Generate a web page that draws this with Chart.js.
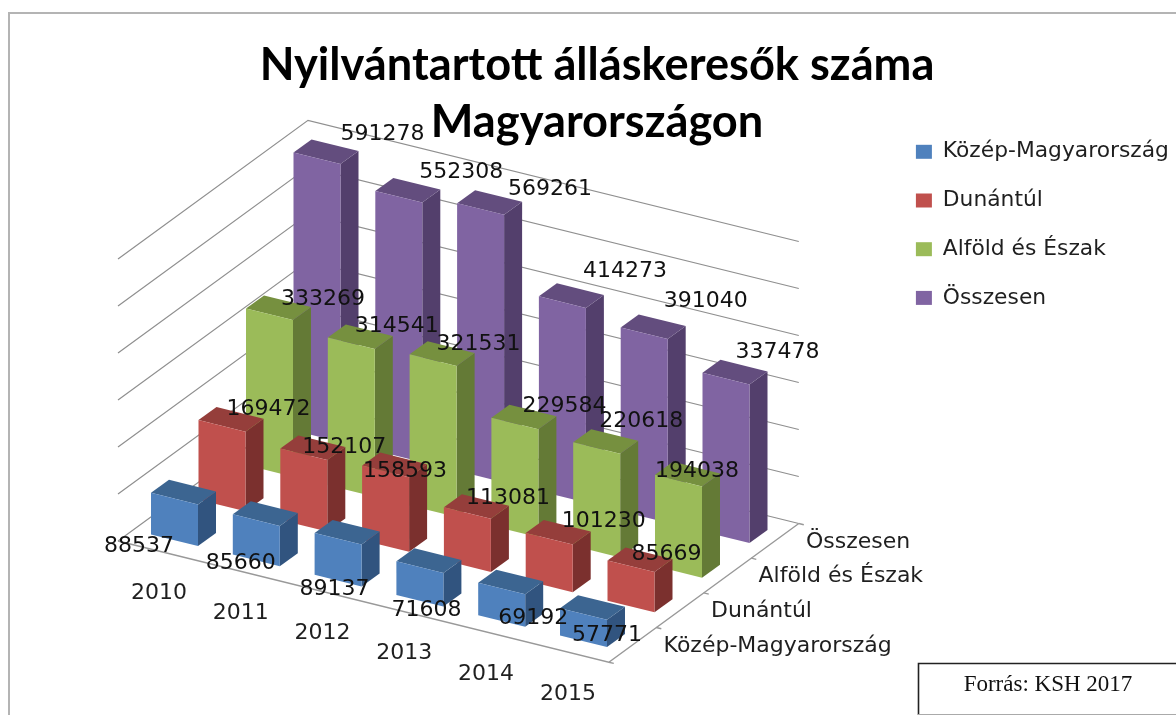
<!DOCTYPE html>
<html><head><meta charset="utf-8">
<style>html,body{margin:0;padding:0;background:#fff}canvas{display:block;filter:blur(.45px)}</style>
<script src="https://cdn.jsdelivr.net/npm/chart.js@4/dist/chart.umd.min.js"></script>
</head><body><div style="width:1176px;height:715px"><canvas id="c" width="1176" height="715"></canvas></div>
<script>
const titleLines = ['Nyilvántartott álláskeresők száma', 'Magyarországon'];
const categories = ['2010', '2011', '2012', '2013', '2014', '2015'];
const seriesNames = ['Közép-Magyarország', 'Dunántúl', 'Alföld és Észak', 'Összesen'];
const kozepMagyarorszag = [88537, 85660, 89137, 71608, 69192, 57771];
const dunantul = [169472, 152107, 158593, 113081, 101230, 85669];
const alfoldEsEszak = [333269, 314541, 321531, 229584, 220618, 194038];
const osszesen = [591278, 552308, 569261, 414273, 391040, 337478];
const gridValues = [0, 100000, 200000, 300000, 400000, 500000, 600000];
const sourceText = 'Forrás: KSH 2017';

const frontColors = ['#4F81BD', '#C0504D', '#9BBB59', '#8064A2'];
const topColors = ['#3C6591', '#953E3B', '#76903F', '#634D7E'];
const sideColors = ['#31547F', '#7B302E', '#647A36', '#533F6C'];

/* oblique projection of the 3D plot onto the two linear scales:
   a step along categories / series moves x (in category units) and shifts the floor (in value units).
   FLOOR_SHIFT keeps every floating bar's start and end on the same side of zero. */
const PX_PER_CAT = 81.8, PX_PER_VAL = 0.00047, FLOOR_SHIFT = 1000000;
const SERIES_X = 47.5 / PX_PER_CAT;
const CAT_DROP = 20.2 / PX_PER_VAL, SERIES_RISE = 34.67 / PX_PER_VAL;
const BAR_INSET_X = 56.5 / PX_PER_CAT, BAR_INSET_Y = 0.8 / PX_PER_VAL;
const BAR_W = 47, DEPTH_X = 18, DEPTH_Y = -13, BAR_SKEW = 5.8;
const PAD_LEFT = 18, ORIGIN_PX_X = 118, ORIGIN_PX_Y = 541, W = 1176, H = 715;
const TITLE_PAD_TOP = 37, TITLE_LH = 57, AREA_TOP = TITLE_PAD_TOP + 2 * TITLE_LH;

const floorX = (i, s) => i + s * SERIES_X;
const floorV = (i, s) => FLOOR_SHIFT + s * SERIES_RISE - i * CAT_DROP;

const allSeries = [kozepMagyarorszag, dunantul, alfoldEsEszak, osszesen];
const datasets = allSeries.map((vals, s) => ({
  label: seriesNames[s],
  data: vals.map((v, i) => {
    const b = floorV(i, s) + BAR_INSET_Y;
    return { x: floorX(i, s) + BAR_INSET_X, y: [b, b + v] };
  }),
  backgroundColor: frontColors[s],
  borderWidth: 0,
  barThickness: BAR_W,
  grouped: false,
  clip: false
}));

function poly(ctx, pts, fill) {
  ctx.beginPath();
  pts.forEach((p, k) => k ? ctx.lineTo(p[0], p[1]) : ctx.moveTo(p[0], p[1]));
  ctx.closePath();
  ctx.fillStyle = fill;
  ctx.fill();
}

/* data-label nudges from the front-right top corner of each bar */
const labelNudgeX = [[-59,-39,-27,-17,8,0],[23,17,-4,17,31,12],[30,22,22,26,21,-5],[42,39,46,39,38,28]];
const labelNudgeY = [[42,37,44.5,37,24,15],[-22,-13,-6,-21,-23,-18],[-21,-23,-22,-23,-32,-15],[-30,-30.6,-26,-37,-38,-32]];

const plot3d = {
  id: 'plot3d',
  afterLayout(chart) {
    const lg = chart.legend;
    lg.left = 889; lg.right = W; lg.top = 114; lg.bottom = H;
  },
  afterDatasetsUpdate(chart) {
    chart.data.datasets.forEach((ds, s) => {
      chart.getDatasetMeta(s).data.forEach(el => {
        el.draw = function (ctx) {
          const l = this.x - this.width / 2, r = this.x + this.width / 2;
          const tl = this.y - BAR_SKEW, tr = this.y + BAR_SKEW;
          const bl = this.base - BAR_SKEW, br = this.base + BAR_SKEW;
          poly(ctx, [[r, tr], [r + DEPTH_X, tr + DEPTH_Y], [r + DEPTH_X, br + DEPTH_Y], [r, br]], sideColors[s]);
          poly(ctx, [[l, tl], [r, tr], [r + DEPTH_X, tr + DEPTH_Y], [l + DEPTH_X, tl + DEPTH_Y]], topColors[s]);
          poly(ctx, [[l, tl], [r, tr], [r, br], [l, bl]], frontColors[s]);
        };
      });
    });
  },
  beforeDatasetsDraw(chart) {
    const { ctx, scales: { x, y } } = chart;
    const nC = categories.length, nS = seriesNames.length;
    const px = (i, s) => x.getPixelForValue(floorX(i, s));
    const py = (i, s, v) => y.getPixelForValue(floorV(i, s) + v);
    ctx.save();
    // outer chart frame
    ctx.strokeStyle = '#b4b4b4'; ctx.lineWidth = 2;
    ctx.beginPath(); ctx.moveTo(9, H + 5); ctx.lineTo(9, 13); ctx.lineTo(W + 5, 13); ctx.stroke();
    // walls
    ctx.strokeStyle = '#8f8f8f'; ctx.lineWidth = 1.2;
    gridValues.forEach(v => {
      ctx.beginPath();
      ctx.moveTo(px(0, 0), py(0, 0, v));
      ctx.lineTo(px(0, nS), py(0, nS, v));
      ctx.lineTo(px(nC, nS), py(nC, nS, v));
      ctx.stroke();
    });
    // floor edges and tick marks
    ctx.strokeStyle = '#999'; ctx.lineWidth = 1.4;
    ctx.beginPath();
    ctx.moveTo(px(0, 0), py(0, 0, 0));
    ctx.lineTo(px(nC, 0), py(nC, 0, 0));
    ctx.lineTo(px(nC, nS), py(nC, nS, 0));
    ctx.stroke();
    for (let s = 0; s <= nS; s++) {
      ctx.beginPath();
      ctx.moveTo(px(nC, s), py(nC, s, 0));
      ctx.lineTo(px(nC, s) + 5, py(nC, s, 0) + 1.2);
      ctx.stroke();
    }
    ctx.restore();
  },
  afterDatasetsDraw(chart) {
    const { ctx, scales: { x, y } } = chart;
    const nC = categories.length;
    ctx.save();
    ctx.textBaseline = 'middle';
    ctx.font = '22px "DejaVu Sans"';
    // category labels along the front edge
    ctx.fillStyle = '#1f1f1f'; ctx.textAlign = 'center';
    categories.forEach((c, i) => {
      ctx.fillText(c, x.getPixelForValue(floorX(i + .5, 0)), y.getPixelForValue(floorV(i + .5, 0)) + 42);
    });
    // series labels along the right edge
    ctx.textAlign = 'left';
    seriesNames.forEach((n, s) => {
      ctx.fillText(n, x.getPixelForValue(floorX(nC, s + .5)) + 31, y.getPixelForValue(floorV(nC, s + .5)) + 1);
    });
    // data labels
    ctx.textAlign = 'center'; ctx.fillStyle = '#111';
    allSeries.forEach((vals, s) => {
      const els = chart.getDatasetMeta(s).data;
      vals.forEach((v, i) => {
        const el = els[i];
        ctx.fillText(String(v), el.x + el.width / 2 + labelNudgeX[s][i], el.y + BAR_SKEW + labelNudgeY[s][i]);
      });
    });
    // source box
    ctx.fillStyle = '#fff'; ctx.strokeStyle = '#222'; ctx.lineWidth = 1.6;
    ctx.fillRect(918, 663, W - 918, H - 663);
    ctx.beginPath(); ctx.moveTo(918.5, H); ctx.lineTo(918.5, 663.5); ctx.lineTo(W, 663.5); ctx.stroke();
    ctx.strokeStyle = '#aaa'; ctx.lineWidth = 1;
    ctx.beginPath(); ctx.moveTo(918, 714.5); ctx.lineTo(W, 714.5); ctx.stroke();
    ctx.fillStyle = '#111'; ctx.font = '23px "Liberation Serif"';
    ctx.textAlign = 'center';
    ctx.fillText(sourceText, 1048, 685);
    ctx.restore();
  }
};

const areaW = W - PAD_LEFT, areaH = H - AREA_TOP;
const xMin = -(ORIGIN_PX_X - PAD_LEFT) / PX_PER_CAT;
const yMin = FLOOR_SHIFT - (H - ORIGIN_PX_Y) / PX_PER_VAL;

new Chart(document.getElementById('c'), {
  type: 'bar',
  data: { datasets },
  plugins: [plot3d],
  options: {
    responsive: false,
    animation: false,
    layout: { padding: { left: PAD_LEFT, top: 0, right: 0, bottom: 0 } },
    events: [],
    scales: {
      x: { type: 'linear', display: false, offset: false, min: xMin, max: xMin + areaW / PX_PER_CAT },
      y: { type: 'linear', display: false, min: yMin, max: yMin + areaH / PX_PER_VAL }
    },
    plugins: {
      tooltip: { enabled: false },
      title: {
        display: true,
        text: titleLines,
        color: '#000',
        font: { family: 'Lato', weight: 'bold', size: 45.2, lineHeight: TITLE_LH / 45.2 },
        padding: { top: TITLE_PAD_TOP, bottom: 0 }
      },
      legend: {
        position: 'chartArea',
        align: 'start',
        labels: {
          font: { family: 'DejaVu Sans', size: 21.8 },
          color: '#1f1f1f',
          boxWidth: 16,
          boxHeight: 14,
          padding: 26.9
        }
      }
    }
  }
});
</script></body></html>
